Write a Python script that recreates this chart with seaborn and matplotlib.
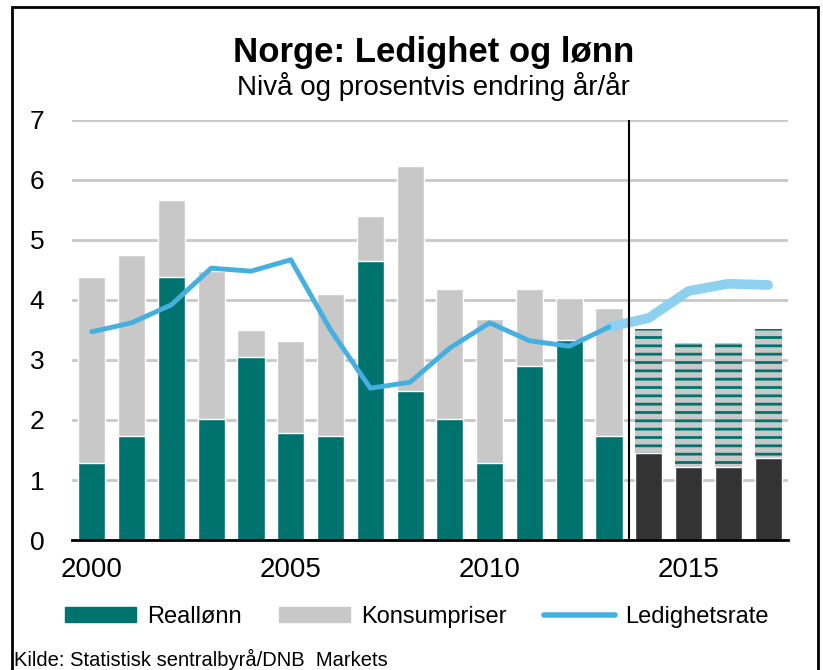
import numpy as np
import matplotlib
matplotlib.use("Agg")
import matplotlib.pyplot as plt
import matplotlib.patches as mpatches
from matplotlib.lines import Line2D
import seaborn as sns

# data
years = [2000, 2001, 2002, 2003, 2004, 2005, 2006, 2007, 2008, 2009,
         2010, 2011, 2012, 2013]
reallonn = [1.28, 1.73, 4.38, 2.02, 3.05, 1.78, 1.73, 4.65, 2.48, 2.02,
            1.28, 2.90, 3.33, 1.73]
totalt = [4.38, 4.75, 5.67, 4.48, 3.50, 3.32, 4.10, 5.40, 6.23, 4.18,
          3.68, 4.18, 4.03, 3.87]
ledighet = [3.47, 3.62, 3.92, 4.53, 4.48, 4.67, 3.50, 2.53, 2.63, 3.20,
            3.62, 3.32, 3.23, 3.55]

prog_years = [2014, 2015, 2016, 2017]
prog_reallonn = [1.45, 1.22, 1.22, 1.37]
prog_totalt = [3.52, 3.28, 3.28, 3.52]
prog_line_years = [2013, 2014, 2015, 2016, 2017]
prog_ledighet = [3.55, 3.70, 4.15, 4.27, 4.25]

teal = "#00736f"
grey = "#c8c8c8"
dark = "#333333"
blue = "#45afdf"
light_blue = "#8ed1ef"

sns.set_style("white")
plt.rcParams["font.family"] = ["Liberation Sans", "DejaVu Sans"]
plt.rcParams["text.color"] = "black"
plt.rcParams["xtick.color"] = "black"
plt.rcParams["ytick.color"] = "black"
plt.rcParams["hatch.linewidth"] = 2.0
plt.rcParams["hatch.color"] = teal

fig = plt.figure(figsize=(8.23, 6.7), dpi=100)
ax = fig.add_axes([0.0875, 0.194, 0.87, 0.627])

w = 0.68
# historic bars
sns.barplot(x=years, y=totalt, native_scale=True, color=grey, width=w,
            saturation=1, ax=ax, zorder=2)
sns.barplot(x=years, y=reallonn, native_scale=True, color=teal, width=w,
            saturation=1, ax=ax, zorder=3)
# forecast bars
sns.barplot(x=prog_years, y=prog_totalt, native_scale=True, color=grey,
            width=w, saturation=1, ax=ax, zorder=2, hatch="--",
            edgecolor=teal, linewidth=0)
sns.barplot(x=prog_years, y=prog_reallonn, native_scale=True, color=dark,
            width=w, saturation=1, ax=ax, zorder=3)

sns.lineplot(x=prog_line_years, y=prog_ledighet, color=light_blue,
             linewidth=7, ax=ax, zorder=4, solid_capstyle="round")
sns.lineplot(x=years, y=ledighet, color=blue, linewidth=3.5, ax=ax, zorder=5)

ax.axvline(2013.5, color="black", linewidth=1.5, zorder=6)

ax.set_xlim(1999.5, 2017.5)
ax.set_ylim(0, 7)
ax.set_yticks(range(0, 8))
ax.set_xticks([2000, 2005, 2010, 2015])
ax.set_xticks(np.arange(1999.5, 2018, 1), minor=True)
ax.tick_params(axis="y", labelsize=19, length=0, pad=20)
ax.tick_params(axis="x", which="major", labelsize=20, length=0, pad=12)
ax.tick_params(axis="x", which="minor", direction="in", length=6,
               width=1.5, color="black")
ax.grid(axis="y", color="#c8c8c8", linewidth=2, zorder=0)
ax.set_axisbelow(True)
for s in ["left", "right", "top"]:
    ax.spines[s].set_visible(False)
ax.spines["bottom"].set_color("black")
ax.spines["bottom"].set_linewidth(2)
ax.spines["bottom"].set_zorder(7)
ax.set_xlabel("")
ax.set_ylabel("")

fig.text(0.527, 0.922, "Norge: Ledighet og lønn", ha="center", va="center",
         fontsize=25, fontweight="bold")
fig.text(0.527, 0.871, "Nivå og prosentvis endring år/år", ha="center",
         va="center", fontsize=20)

handles = [mpatches.Patch(color=teal, label="Reallønn"),
           mpatches.Patch(color=grey, label="Konsumpriser"),
           Line2D([0], [0], color=blue, linewidth=4, label="Ledighetsrate")]
fig.legend(handles=handles, loc="center", bbox_to_anchor=(0.507, 0.079),
           ncol=3, frameon=False, fontsize=17, handlelength=3.0,
           handleheight=0.6, columnspacing=1.6, handletextpad=0.45)

fig.text(0.017, 0.015, "Kilde: Statistisk sentralbyrå/DNB  Markets",
         ha="left", va="center", fontsize=14.5)

fig.patches.append(mpatches.Rectangle((12 / 823, -0.05), 806 / 823,
                                      1.05 - 7 / 670, transform=fig.transFigure,
                                      fill=False, edgecolor="black",
                                      linewidth=2))

fig.savefig("out.png", dpi=100)
